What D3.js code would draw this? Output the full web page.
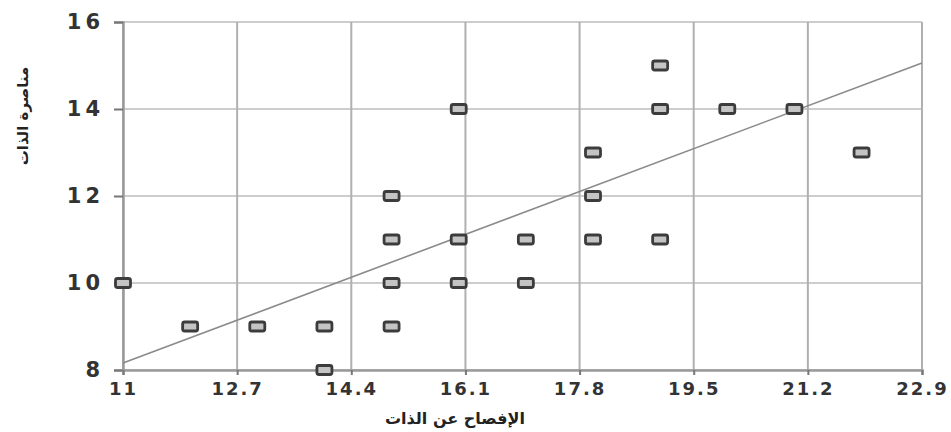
<!DOCTYPE html>
<html><head><meta charset="utf-8">
<script src="https://cdn.jsdelivr.net/npm/d3@7"></script>
<style>body{margin:0;background:#fff}svg{display:block}</style>
</head><body><svg id="c" width="951" height="432"></svg>
<script>
const xValues = [11,12,13,14,14,15,15,15,15,16,16,16,17,17,18,18,18,19,19,19,20,21,22];
const yValues = [10,9,9,9,8,12,11,10,9,14,11,10,11,10,13,12,11,15,14,11,14,14,13];
const xTicks = [11,12.7,14.4,16.1,17.8,19.5,21.2,22.9];
const yTicks = [8,10,12,14,16];
const fitX = [11,22.9];
const fitY = [8.16,15.06];
const xTitle = "الإفصاح عن الذات";
const yTitle = "مناصرة الذات";

const svg = d3.select("#c");
const m = {l:123, r:922, t:22, b:370};
const x = d3.scaleLinear().domain([11,22.9]).range([m.l,m.r]);
const y = d3.scaleLinear().domain([8,16]).range([m.b,m.t]);

// grid
svg.append("g").selectAll("line").data(yTicks).join("line")
  .attr("x1",m.l).attr("x2",m.r).attr("y1",d=>y(d)).attr("y2",d=>y(d))
  .attr("stroke","#bdbdbd").attr("stroke-width",1.5);
svg.append("g").selectAll("line").data(xTicks).join("line")
  .attr("y1",m.t).attr("y2",m.b).attr("x1",d=>x(d)).attr("x2",d=>x(d))
  .attr("stroke","#b0b0b0").attr("stroke-width",2);

// axes
const ya = svg.append("g").attr("transform",`translate(${m.l},0)`)
  .call(d3.axisLeft(y).tickValues(yTicks).tickSize(9).tickPadding(10).tickFormat(d3.format("d")));
const xa = svg.append("g").attr("transform",`translate(0,${m.b})`)
  .call(d3.axisBottom(x).tickValues(xTicks).tickSize(5).tickPadding(7).tickFormat(d=>String(d)));
[ya,xa].forEach(a=>{
  a.select(".domain").attr("stroke","#9a9a9a").attr("stroke-width",2.5);
  a.selectAll(".tick line").attr("stroke","#777").attr("stroke-width",2);
  a.selectAll("text").attr("fill","#333").attr("font-family","DejaVu Sans")
    .attr("font-weight","bold").attr("font-size",18).attr("letter-spacing",2);
});
ya.selectAll("text").attr("font-size",21).attr("letter-spacing",4);

// fit line
svg.append("path").datum(fitX.map((d,i)=>[d,fitY[i]]))
  .attr("d",d3.line().x(d=>x(d[0])).y(d=>y(d[1])))
  .attr("fill","none").attr("stroke","#8a8a8a").attr("stroke-width",1.6);

// points
svg.append("g").selectAll("rect").data(xValues.map((d,i)=>[d,yValues[i]])).join("rect")
  .attr("x",d=>x(d[0])-7.5).attr("y",d=>y(d[1])-4.5).attr("width",15).attr("height",9).attr("rx",2)
  .attr("fill","#c4c4c4").attr("stroke","#3c3c3c").attr("stroke-width",2.8);

// titles
svg.append("text").attr("x",455).attr("y",424).attr("text-anchor","middle")
  .attr("font-family","DejaVu Sans").attr("font-weight","bold").attr("font-size",16)
  .attr("fill","#222").attr("direction","rtl").text(xTitle);
svg.append("text").attr("transform","translate(28,116) rotate(-90)").attr("text-anchor","middle")
  .attr("font-family","DejaVu Sans").attr("font-weight","bold").attr("font-size",15)
  .attr("fill","#222").text(yTitle);
</script></body></html>
